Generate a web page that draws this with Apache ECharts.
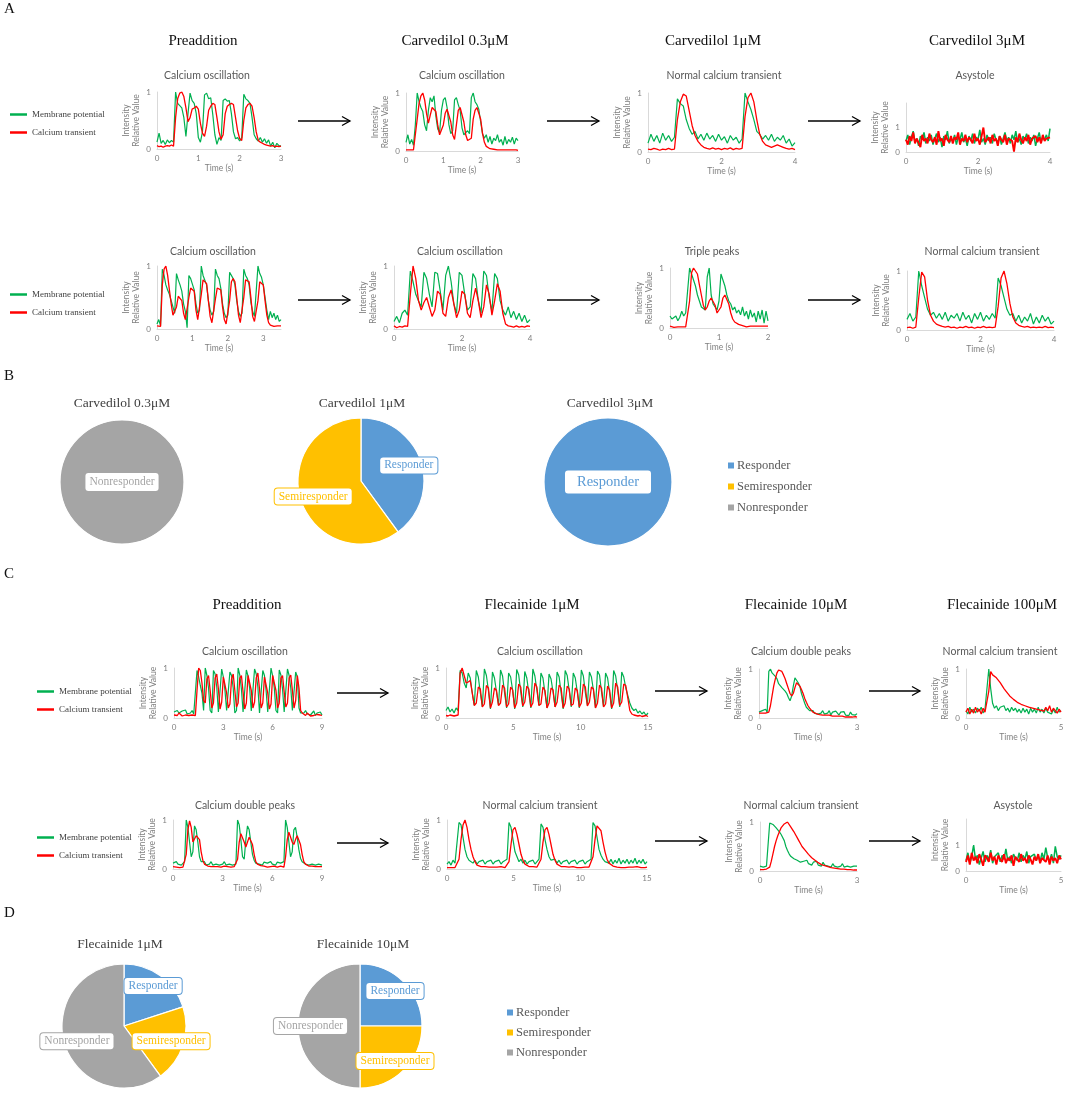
<!DOCTYPE html>
<html>
<head>
<meta charset="utf-8">
<script src="https://cdn.jsdelivr.net/npm/echarts@6/dist/echarts.min.js"></script>
<style>
  html, body { margin: 0; padding: 0; background: #fff; }
  #fig { width: 1065px; height: 1094px; }
</style>
</head>
<body>
<div id="fig"></div>
<script>
// ---- traces: membrane potential (mp) and calcium transient (ct) ----
// panel A, top row
var mpA1 = [0.12,0.28,0.10,0.15,0.08,0.16,0.11,0.15,0.12,1.00,0.80,0.76,0.72,0.55,0.22,0.62,0.98,0.85,0.80,0.62,0.20,0.12,0.30,0.95,0.98,0.88,0.90,0.60,0.25,0.08,0.20,0.15,0.85,0.88,0.84,0.85,0.62,0.30,0.18,0.20,0.14,0.20,0.96,0.88,0.85,0.80,0.55,0.25,0.18,0.14,0.20,0.12,0.18,0.10,0.16,0.05,0.12,0.02,0.10,0.06,0.05];
var ctA1 = [0.06,0.04,0.05,0.03,0.05,0.06,0.05,0.07,0.05,0.55,0.88,0.98,1.00,0.92,0.72,0.48,0.55,0.70,0.72,0.75,0.70,0.45,0.28,0.22,0.40,0.68,0.75,0.80,0.78,0.55,0.30,0.17,0.25,0.62,0.75,0.78,0.80,0.78,0.55,0.32,0.18,0.15,0.50,0.72,0.78,0.80,0.75,0.55,0.30,0.15,0.12,0.10,0.08,0.07,0.06,0.05,0.06,0.04,0.05,0.04,0.05];
var mpA2 = [0.15,0.28,0.12,0.20,0.10,0.45,1.00,0.85,0.75,0.68,0.45,0.35,0.70,0.92,0.85,0.95,0.60,0.38,0.32,0.70,0.88,0.92,0.75,0.45,0.30,0.35,0.88,0.92,0.80,0.70,0.40,0.28,0.30,0.35,0.30,0.92,1.00,0.85,0.80,0.72,0.50,0.30,0.22,0.28,0.15,0.25,0.12,0.22,0.18,0.28,0.15,0.20,0.10,0.25,0.12,0.20,0.15,0.24,0.12,0.22,0.18];
var ctA2 = [0.02,0.03,0.02,0.04,0.02,0.05,0.55,0.82,0.95,1.00,0.88,0.65,0.48,0.62,0.75,0.72,0.68,0.45,0.28,0.25,0.45,0.65,0.72,0.70,0.50,0.28,0.20,0.45,0.70,0.75,0.72,0.50,0.28,0.18,0.15,0.22,0.55,0.70,0.75,0.72,0.55,0.30,0.15,0.08,0.05,0.04,0.05,0.03,0.04,0.02,0.03,0.02,0.03,0.02,0.01,0.02,0.01,0.02,0.01,0.02,0.01];
var mpA3 = [0.15,0.30,0.18,0.28,0.15,0.32,0.20,0.28,0.18,0.25,0.90,0.82,0.78,0.55,0.40,0.30,0.35,0.22,0.30,0.20,0.32,0.22,0.28,0.18,0.30,0.20,0.26,0.15,0.28,0.20,0.25,0.15,0.22,1.00,0.85,0.72,0.55,0.35,0.30,0.22,0.28,0.20,0.30,0.18,0.25,0.20,0.28,0.15,0.22,0.10,0.16];
var ctA3 = [0.05,0.04,0.06,0.05,0.03,0.05,0.04,0.06,0.04,0.05,0.55,0.85,0.98,0.95,0.70,0.45,0.28,0.18,0.12,0.08,0.06,0.05,0.07,0.05,0.06,0.04,0.06,0.05,0.07,0.04,0.06,0.05,0.06,0.60,0.92,1.00,0.85,0.55,0.30,0.18,0.12,0.10,0.08,0.10,0.12,0.10,0.08,0.06,0.05,0.06,0.04];
var mpA4 = [0.45,0.70,0.30,0.60,0.85,0.40,0.55,0.25,0.65,0.50,0.80,0.35,0.60,0.45,0.70,0.30,0.55,0.75,0.40,0.60,0.20,0.65,0.50,0.85,0.35,0.55,0.45,0.70,0.30,0.60,0.50,0.80,0.40,0.55,0.25,0.65,0.45,0.75,0.35,0.60,0.50,0.90,0.40,0.55,0.30,0.70,0.45,0.60,0.35,0.75,0.50,0.40,0.65,0.30,0.55,0.80,0.45,0.60,0.35,0.70,0.50,0.85,0.40,0.55,0.30,0.65,0.50,0.75,0.35,0.60,0.45,0.70,0.25,0.55,0.80,0.40,0.60,0.50,0.70,0.45,0.95];
var ctA4 = [0.50,0.30,0.65,0.45,0.80,0.35,0.55,0.60,0.20,0.70,0.45,0.55,0.35,0.75,0.50,0.40,0.60,0.30,0.85,0.45,0.55,0.25,0.70,0.50,0.40,0.65,0.35,0.60,0.50,0.80,0.30,0.55,0.45,0.70,0.40,0.60,0.50,0.35,0.75,0.45,0.55,0.30,0.65,1.00,0.40,0.50,0.60,0.35,0.70,0.45,0.55,0.25,0.65,0.50,0.40,0.70,0.30,0.55,0.60,0.45,0.02,0.60,0.40,0.75,0.50,0.35,0.60,0.45,0.70,0.30,0.55,0.50,0.65,0.40,0.60,0.35,0.70,0.45,0.55,0.50,0.60];
// panel A, bottom row
var mpA5 = [0.08,0.15,0.05,0.95,0.85,0.70,0.62,0.55,0.45,0.35,0.25,0.88,0.78,0.70,0.60,0.40,0.28,0.02,0.85,0.80,0.78,0.62,0.40,0.25,0.30,1.00,0.85,0.82,0.70,0.45,0.30,0.22,0.28,0.95,0.85,0.80,0.65,0.40,0.25,0.18,0.22,0.90,0.88,0.80,0.70,0.45,0.28,0.20,0.25,0.95,0.85,0.80,0.70,0.42,0.28,0.20,0.22,1.00,0.88,0.82,0.70,0.50,0.30,0.15,0.28,0.18,0.25,0.15,0.22,0.12,0.15];
var ctA5 = [0.05,0.02,0.04,0.70,0.95,1.00,0.85,0.62,0.40,0.22,0.20,0.35,0.52,0.55,0.45,0.25,0.15,0.18,0.50,0.65,0.68,0.60,0.30,0.15,0.12,0.55,0.78,0.80,0.72,0.45,0.20,0.10,0.08,0.48,0.65,0.68,0.62,0.35,0.15,0.08,0.06,0.45,0.75,0.80,0.75,0.50,0.22,0.10,0.08,0.50,0.78,0.80,0.75,0.50,0.20,0.12,0.10,0.45,0.75,0.78,0.70,0.45,0.22,0.10,0.06,0.05,0.04,0.06,0.05,0.06,0.05];
var mpA6 = [0.12,0.20,0.10,0.25,0.30,0.22,0.92,0.75,0.55,0.45,0.35,0.90,0.80,0.55,0.35,0.90,0.88,0.60,0.30,0.85,1.00,0.75,0.40,0.25,0.90,0.85,0.55,0.30,0.35,0.88,0.80,0.45,0.25,0.92,0.85,0.50,0.28,0.88,0.80,0.45,0.30,0.22,0.35,0.18,0.28,0.15,0.25,0.12,0.22,0.10,0.15];
var ctA6 = [0.05,0.02,0.04,0.03,0.05,0.04,0.55,1.00,0.80,0.45,0.30,0.42,0.50,0.35,0.20,0.30,0.60,0.55,0.25,0.20,0.50,0.62,0.40,0.18,0.30,0.60,0.55,0.25,0.18,0.45,0.65,0.45,0.18,0.35,0.70,0.55,0.22,0.45,0.72,0.60,0.25,0.08,0.05,0.04,0.03,0.05,0.03,0.04,0.03,0.05,0.04];
var mpA7 = [0.20,0.15,0.12,0.20,0.12,0.18,0.28,0.20,0.25,0.22,1.00,0.90,0.80,0.70,0.55,0.45,0.35,0.32,0.30,0.85,1.00,0.55,0.40,0.35,0.30,0.45,0.90,0.88,0.70,0.55,0.45,0.40,0.30,0.35,0.25,0.30,0.22,0.35,0.20,0.28,0.15,0.30,0.18,0.25,0.10,0.28,0.15,0.30,0.08,0.28,0.12];
var ctA7 = [0.03,0.02,0.01,0.03,0.02,0.03,0.02,0.03,0.02,0.03,0.45,0.92,1.00,0.98,0.90,0.72,0.55,0.38,0.30,0.35,0.45,0.50,0.48,0.38,0.25,0.22,0.35,0.50,0.55,0.52,0.40,0.25,0.15,0.10,0.08,0.06,0.05,0.04,0.03,0.02,0.04,0.03,0.02,0.03,0.04,0.03,0.02,0.03,0.04,0.03,0.03];
var mpA8 = [0.18,0.28,0.15,0.22,1.00,0.75,0.55,0.35,0.25,0.30,0.20,0.28,0.18,0.30,0.15,0.25,0.20,0.28,0.15,0.30,0.18,0.25,0.12,0.28,0.18,0.30,0.15,0.25,0.18,0.28,0.20,0.88,0.75,0.55,0.35,0.25,0.28,0.15,0.25,0.12,0.22,0.15,0.28,0.10,0.22,0.12,0.25,0.15,0.22,0.10,0.15];
var ctA8 = [0.04,0.05,0.03,0.05,0.55,0.98,0.90,0.50,0.25,0.15,0.10,0.08,0.06,0.05,0.06,0.04,0.05,0.03,0.05,0.04,0.06,0.04,0.05,0.03,0.05,0.04,0.06,0.04,0.05,0.04,0.05,0.40,0.88,1.00,0.78,0.45,0.22,0.12,0.08,0.06,0.05,0.06,0.04,0.05,0.04,0.05,0.04,0.06,0.04,0.05,0.04];
// panel C, top row
var mpC1 = [0.12,0.08,0.15,0.10,0.06,0.14,0.10,0.16,0.08,0.12,0.10,0.15,0.08,0.12,
  0.95,0.82,0.65,0.50,0.15, 1.00,0.85,0.60,0.15,0.10, 0.95,0.88,0.62,0.12,0.08, 0.98,0.82,0.55,0.15,0.12,
  0.92,0.85,0.60,0.10,0.15, 1.00,0.86,0.58,0.12,0.08, 0.96,0.84,0.60,0.14,0.10, 0.98,0.88,0.62,0.10,0.12,
  0.95,0.85,0.55,0.12,0.08, 1.00,0.84,0.60,0.15,0.10, 0.96,0.86,0.58,0.12,0.12, 0.98,0.85,0.60,0.15,0.12,
  0.92,0.82,0.20,0.10,0.12, 0.10,0.15,0.08,0.12,0.06,0.10,0.14,0.05,0.10,0.08,0.12,0.06];
var ctC1 = [0.06,0.08,0.05,0.10,0.07,0.04,0.08,0.06,0.09,0.05,0.07,0.06,0.08,0.05,
  0.55,1.00,0.95,0.70,0.35, 0.30,0.78,0.85,0.55,0.20, 0.30,0.80,0.88,0.58,0.18, 0.32,0.82,0.85,0.50,0.20,
  0.28,0.78,0.88,0.55,0.22, 0.30,0.80,0.85,0.52,0.18, 0.30,0.85,0.88,0.55,0.20, 0.32,0.80,0.90,0.58,0.20,
  0.30,0.82,0.86,0.50,0.18, 0.28,0.85,0.88,0.55,0.20, 0.30,0.80,0.85,0.52,0.22, 0.30,0.80,0.86,0.55,0.20,
  0.35,0.85,0.60,0.15,0.10, 0.08,0.05,0.10,0.06,0.04,0.08,0.05,0.03,0.07,0.04,0.06,0.05];
var mpC2 = [0.15,0.22,0.12,0.18,0.10,0.20,0.15,
  0.95,0.90,0.70,0.60, 0.90,0.80,0.50,0.25, 0.95,0.82,0.50,0.22, 0.98,0.85,0.55,0.18, 0.92,0.80,0.52,0.25,
  0.96,0.84,0.50,0.20, 0.90,0.82,0.55,0.18, 0.97,0.86,0.52,0.22, 0.93,0.80,0.50,0.20, 0.98,0.84,0.55,0.25,
  0.90,0.80,0.50,0.20, 0.88,0.78,0.52,0.22, 0.92,0.82,0.50,0.18, 0.95,0.85,0.55,0.22, 0.90,0.80,0.52,0.20,
  0.96,0.84,0.50,0.25, 0.92,0.82,0.55,0.20, 0.94,0.86,0.52,0.22, 0.90,0.80,0.50,0.18, 0.95,0.84,0.55,0.22,
  0.92,0.82,0.60,0.45, 0.30,0.20,0.15,0.18,0.10,0.14,0.08,0.12,0.05,0.10];
var ctC2 = [0.05,0.04,0.06,0.05,0.04,0.05,0.06,
  0.90,1.00,0.85,0.70, 0.72,0.75,0.50,0.25, 0.30,0.62,0.58,0.22, 0.28,0.65,0.60,0.20, 0.32,0.60,0.55,0.25,
  0.30,0.66,0.60,0.22, 0.28,0.62,0.56,0.20, 0.30,0.68,0.62,0.24, 0.32,0.64,0.58,0.22, 0.30,0.70,0.62,0.25,
  0.28,0.62,0.55,0.20, 0.30,0.60,0.56,0.22, 0.32,0.66,0.60,0.20, 0.30,0.64,0.58,0.25, 0.28,0.60,0.55,0.22,
  0.30,0.68,0.62,0.24, 0.32,0.62,0.58,0.20, 0.30,0.66,0.60,0.22, 0.28,0.64,0.56,0.20, 0.30,0.70,0.62,0.25,
  0.32,0.68,0.65,0.40, 0.15,0.08,0.06,0.05,0.04,0.05,0.03,0.04,0.05,0.03];
var mpC3 = [0.12,0.10,0.15,0.12,0.18,0.12,0.95,1.00,0.92,0.95,0.85,0.80,0.70,0.72,0.62,0.65,0.55,0.50,0.42,0.35,0.45,0.65,0.82,0.78,0.72,0.65,0.50,0.40,0.30,0.22,0.18,0.15,0.12,0.15,0.10,0.14,0.08,0.12,0.10,0.15,0.08,0.12,0.10,0.15,0.06,0.12,0.08,0.14,0.10,0.06,0.12,0.08,0.13,0.06,0.10,0.05,0.12,0.07,0.10,0.06,0.09];
var ctC3 = [0.10,0.12,0.10,0.08,0.10,0.08,0.12,0.25,0.45,0.65,0.80,0.92,0.98,1.00,0.95,0.88,0.80,0.70,0.60,0.50,0.45,0.50,0.62,0.72,0.70,0.65,0.58,0.50,0.40,0.32,0.25,0.20,0.16,0.12,0.10,0.09,0.08,0.07,0.08,0.06,0.07,0.06,0.05,0.06,0.05,0.04,0.05,0.04,0.03,0.04,0.03,0.04,0.03,0.02,0.03,0.02,0.03,0.02,0.02,0.03,0.02];
var mpC4 = [0.15,0.08,0.22,0.12,0.18,0.10,0.20,0.14,0.22,0.10,0.18,0.15,1.00,0.60,0.30,0.20,0.25,0.15,0.22,0.18,0.25,0.15,0.20,0.12,0.22,0.15,0.20,0.12,0.18,0.10,0.20,0.12,0.18,0.08,0.20,0.12,0.18,0.10,0.22,0.12,0.18,0.10,0.20,0.12,0.15,0.08,0.18,0.10,0.22,0.12,0.15];
var ctC4 = [0.12,0.20,0.08,0.18,0.10,0.22,0.12,0.18,0.08,0.20,0.12,0.15,0.55,0.95,0.88,0.92,0.82,0.80,0.72,0.68,0.60,0.55,0.52,0.45,0.42,0.38,0.35,0.32,0.30,0.28,0.32,0.25,0.28,0.22,0.25,0.20,0.24,0.18,0.22,0.16,0.20,0.14,0.22,0.15,0.25,0.12,0.20,0.15,0.10,0.18,0.12];
// panel C, bottom row
var mpC5 = [0.12,0.08,0.15,0.10,0.14,0.08,0.12,0.15,
  1.00,0.85,0.55,0.25,0.35,0.88,0.80,0.55,0.25,0.15,0.12,
  0.15,0.08,0.12,0.10,0.15,0.08,0.12,0.10,0.14,0.08,0.12,0.10,0.15,0.08,0.12,0.10,0.14,0.08,0.12,0.10,
  1.00,0.90,0.60,0.25,0.20,0.60,0.88,0.80,0.55,0.30,0.18,0.12,
  0.15,0.10,0.12,0.08,0.14,0.10,0.12,0.08,0.15,0.10,0.12,0.08,0.14,0.10,0.12,0.08,0.15,
  1.00,0.85,0.55,0.25,0.35,0.80,0.85,0.65,0.40,0.22,0.15,0.12,
  0.10,0.14,0.08,0.12,0.10,0.14,0.08,0.12,0.10,0.13,0.08];
var ctC5 = [0.05,0.06,0.04,0.05,0.03,0.06,0.04,0.05,
  0.30,0.80,0.98,0.85,0.55,0.52,0.68,0.72,0.60,0.35,0.18,
  0.10,0.08,0.06,0.08,0.05,0.06,0.05,0.07,0.05,0.06,0.04,0.05,0.06,0.04,0.05,0.06,0.04,0.05,0.05,0.06,
  0.20,0.55,0.72,0.75,0.55,0.45,0.55,0.65,0.62,0.50,0.30,0.15,
  0.10,0.08,0.07,0.05,0.06,0.05,0.04,0.06,0.05,0.04,0.06,0.05,0.04,0.05,0.06,0.05,0.04,
  0.25,0.60,0.75,0.78,0.55,0.50,0.60,0.68,0.65,0.50,0.30,0.15,
  0.10,0.08,0.06,0.05,0.06,0.04,0.05,0.03,0.05,0.04,0.05];
var mpC6 = [0.10,0.15,0.08,0.18,0.12,0.15,
  0.95,0.90,0.65,0.40,0.25,0.18,0.15,0.12,0.18,
  0.10,0.15,0.12,0.18,0.10,0.15,0.12,0.18,0.10,0.15,0.12,0.18,0.10,0.15,0.12,0.20,
  0.95,0.85,0.60,0.35,0.25,0.15,0.20,0.12,0.18,0.10,0.15,0.12,0.18,0.10,0.15,0.20,
  0.92,0.85,0.60,0.40,0.25,0.18,0.15,0.20,0.12,0.18,0.10,0.15,0.12,0.18,0.10,0.15,0.12,0.18,0.10,0.15,0.12,0.18,0.10,0.15,0.12,0.20,
  0.95,0.88,0.65,0.40,0.28,0.20,0.15,0.18,0.12,0.20,0.10,0.18,0.12,0.22,0.10,0.18,0.12,0.20,0.10,0.18,0.12,0.22,0.10,0.18,0.12,0.20,0.10,0.15];
var ctC6 = [0.03,0.04,0.03,0.04,0.03,0.05,
  0.20,0.60,0.90,1.00,0.85,0.60,0.40,0.25,0.15,
  0.08,0.06,0.05,0.04,0.05,0.03,0.04,0.03,0.04,0.03,0.04,0.03,0.05,0.04,0.03,0.05,
  0.15,0.50,0.80,0.85,0.70,0.50,0.30,0.18,0.10,0.06,0.05,0.04,0.05,0.03,0.04,0.03,
  0.20,0.55,0.80,0.85,0.70,0.50,0.30,0.18,0.10,0.06,0.05,0.04,0.05,0.03,0.04,0.03,0.05,0.04,0.03,0.04,0.03,0.05,0.04,0.03,0.04,0.05,
  0.25,0.60,0.88,0.92,0.78,0.55,0.35,0.20,0.12,0.08,0.06,0.05,0.04,0.05,0.03,0.04,0.03,0.05,0.04,0.03,0.04,0.03,0.05,0.04,0.03,0.04,0.03,0.04];
var mpC7 = [0.10,0.12,0.08,0.12,0.10,0.14,0.98,1.00,0.95,0.96,0.88,0.85,0.80,0.75,0.72,0.62,0.50,0.42,0.35,0.30,0.32,0.25,0.28,0.22,0.25,0.18,0.22,0.20,0.16,0.22,0.15,0.18,0.12,0.18,0.14,0.20,0.12,0.16,0.10,0.18,0.12,0.16,0.10,0.14,0.08,0.15,0.10,0.14,0.08,0.12,0.10,0.15,0.08,0.12,0.10,0.14,0.08,0.12,0.10,0.13,0.10];
var ctC7 = [0.03,0.04,0.03,0.05,0.04,0.03,0.08,0.20,0.35,0.50,0.62,0.72,0.80,0.88,0.92,0.96,0.99,1.00,0.96,0.90,0.85,0.80,0.74,0.68,0.62,0.56,0.50,0.46,0.42,0.38,0.34,0.30,0.27,0.24,0.22,0.19,0.17,0.15,0.13,0.12,0.11,0.10,0.09,0.08,0.07,0.07,0.06,0.06,0.05,0.05,0.04,0.04,0.04,0.03,0.03,0.03,0.03,0.02,0.02,0.03,0.02];
var mpC8 = [0.40,0.70,0.30,0.55,1.00,0.45,0.60,0.25,0.50,0.75,0.35,0.60,0.45,0.80,0.30,0.55,0.50,0.70,0.35,0.60,0.45,0.85,0.40,0.55,0.30,0.65,0.50,0.40,0.70,0.35,0.60,0.45,0.75,0.30,0.55,0.50,0.65,0.40,0.60,0.35,0.70,0.45,0.90,0.50,0.40,0.65,0.30,0.95,0.55,0.45,0.60];
var ctC8 = [0.35,0.60,0.25,0.70,0.40,0.55,0.30,0.65,0.45,0.20,0.60,0.50,0.35,0.70,0.40,0.55,0.25,0.60,0.45,0.35,0.65,0.30,0.50,0.40,0.60,0.20,0.55,0.45,0.35,0.65,0.40,0.50,0.30,0.60,0.45,0.25,0.55,0.40,0.65,0.30,0.50,0.45,0.35,0.60,0.25,0.55,0.40,0.50,0.30,0.60,0.45];

// per-plot text and axis values, plot order: A top, A bottom, C top, C bottom
var plotTitles = ['Calcium oscillation','Calcium oscillation','Normal calcium transient','Asystole',
  'Calcium oscillation','Calcium oscillation','Triple peaks','Normal calcium transient',
  'Calcium oscillation','Calcium oscillation','Calcium double peaks','Normal calcium transient',
  'Calcium double peaks','Normal calcium transient','Normal calcium transient','Asystole'];
var timeSpans = [3, 3, 4, 4, 3.5, 4, 2, 4, 9, 15, 3, 5, 9, 15, 3, 5];
var timeTicks = [1, 1, 2, 2, 1, 2, 1, 2, 3, 5, 3, 5, 3, 5, 3, 5];
var yTops = [1, 1, 1, 2, 1, 1, 1, 1, 1, 1, 1, 1, 1, 1, 1, 2];
var membrane = [mpA1, mpA2, mpA3, mpA4, mpA5, mpA6, mpA7, mpA8, mpC1, mpC2, mpC3, mpC4, mpC5, mpC6, mpC7, mpC8];
var calcium = [ctA1, ctA2, ctA3, ctA4, ctA5, ctA6, ctA7, ctA8, ctC1, ctC2, ctC3, ctC4, ctC5, ctC6, ctC7, ctC8];

var colTitlesA = ['Preaddition', 'Carvedilol 0.3μM', 'Carvedilol 1μM', 'Carvedilol 3μM'];
var colTitlesC = ['Preaddition', 'Flecainide 1μM', 'Flecainide 10μM', 'Flecainide 100μM'];

// responder counts per pie: [Responder, Semiresponder, Nonresponder]
var pieNames = ['Responder', 'Semiresponder', 'Nonresponder'];
var carv03 = [0, 0, 1];
var carv1 = [2, 3, 0];
var carv3 = [1, 0, 0];
var flec1 = [1, 1, 3];
var flec10 = [1, 1, 2];
var pieTitles = ['Carvedilol 0.3μM', 'Carvedilol 1μM', 'Carvedilol 3μM', 'Flecainide 1μM', 'Flecainide 10μM'];
var pieCounts = [carv03, carv1, carv3, flec1, flec10];

// ---- layout (pixels) ----
var GREEN = '#00B050', RED = '#FF0000';
var pieColors = ['#5B9BD5', '#FFC000', '#A5A5A5'];
var SERIF = '"Liberation Serif", "Times New Roman", serif';
var SANS = 'Lato, "Open Sans", sans-serif';
var boxes = [
  [157, 92, 124, 57], [406, 93, 112, 58], [648, 93, 147, 59], [906, 103, 144, 49],
  [157, 266, 124, 63], [394, 266, 136, 63], [670, 268, 98, 60], [907, 271, 147, 59],
  [174, 668, 148, 50], [446, 668, 202, 50], [759, 669, 98, 49], [966, 669, 95, 49],
  [173, 820, 149, 49], [447, 820, 200, 49], [760, 822, 97, 49], [966, 819, 95, 52]
];
var subPos = [[207, 76], [462, 76], [724, 76], [975, 76], [213, 252], [460, 252], [712, 252], [982, 252],
  [245, 652], [540, 652], [801, 652], [1000, 652], [245, 806], [540, 806], [801, 806], [1013, 806]];
var colPosA = [[203, 41], [455, 41], [713, 41], [977, 41]];
var colPosC = [[247, 605], [532, 605], [796, 605], [1002, 605]];
var arrows = [[298, 350, 121], [547, 599, 121], [808, 860, 121], [298, 350, 300], [547, 599, 300], [808, 860, 300],
  [337, 388, 693], [655, 707, 691], [869, 920, 691], [337, 388, 843], [655, 707, 841], [869, 920, 841]];
var piePos = [[122, 482, 62], [361, 481, 63], [608, 482, 64], [124, 1026, 62], [360, 1026, 62]];
var pieTitlePos = [[122, 403], [362, 403], [610, 403], [120, 944], [363, 944]];
var letters = [['A', 4, 9], ['B', 4, 376], ['C', 4, 574], ['D', 4, 913]];

var grids = [], xAxes = [], yAxes = [], series = [], graphics = [];
var axisGrey = '#7f7f7f';

function trace(name, vals, span, k, color, width) {
    return {
        type: 'line', name: name, xAxisIndex: k, yAxisIndex: k,
        showSymbol: false, silent: true, animation: false,
        lineStyle: { color: color, width: width }, itemStyle: { color: color },
        data: vals.map(function (v, i) { return [i * span / (vals.length - 1), v]; })
    };
}

for (var k = 0; k < 16; k++) {
    var b = boxes[k];
    grids.push({ left: b[0], top: b[1], width: b[2], height: b[3], outerBoundsMode: 'none' });
    var xLab = { fontSize: 8, color: axisGrey, margin: 5, fontFamily: SANS };
    if (timeSpans[k] % timeTicks[k] !== 0) xLab.showMaxLabel = false;
    xAxes.push({
        type: 'value', gridIndex: k, min: 0, max: timeSpans[k], interval: timeTicks[k],
        name: 'Time (s)', nameLocation: 'middle', nameGap: 15,
        nameTextStyle: { fontSize: 8.5, color: axisGrey, fontFamily: SANS },
        axisLine: { lineStyle: { color: '#d9d9d9' } }, axisTick: { show: false },
        splitLine: { show: false }, axisLabel: xLab
    });
    var yLab = { fontSize: 8, color: axisGrey, margin: 6, fontFamily: SANS };
    if (yTops[k] !== 1) yLab.showMaxLabel = false;
    yAxes.push({
        type: 'value', gridIndex: k, min: 0, max: yTops[k], interval: 1,
        name: 'Intensity\nRelative Value', nameLocation: 'middle', nameRotate: 90, nameGap: 16,
        nameTextStyle: { fontSize: 8.5, color: axisGrey, fontFamily: SANS, lineHeight: 10 },
        axisLine: { show: true, lineStyle: { color: '#d9d9d9' } }, axisTick: { show: false },
        splitLine: { show: false }, axisLabel: yLab
    });
    var asys = yTops[k] === 2;
    series.push(trace('Membrane potential', membrane[k], timeSpans[k], k, GREEN, asys ? 1.5 : 1.2));
    series.push(trace('Calcium transient', calcium[k], timeSpans[k], k, RED, asys ? 1.9 : 1.3));
    graphics.push({
        type: 'text', x: subPos[k][0], y: subPos[k][1],
        style: { text: plotTitles[k], fill: '#595959', fontSize: 10.5, fontFamily: SANS, align: 'center', verticalAlign: 'middle' }
    });
}

// column headings
colTitlesA.forEach(function (t, i) {
    graphics.push({ type: 'text', x: colPosA[i][0], y: colPosA[i][1],
        style: { text: t, fill: '#111', fontSize: 15, fontFamily: SERIF, align: 'center', verticalAlign: 'middle' } });
});
colTitlesC.forEach(function (t, i) {
    graphics.push({ type: 'text', x: colPosC[i][0], y: colPosC[i][1],
        style: { text: t, fill: '#111', fontSize: 15, fontFamily: SERIF, align: 'center', verticalAlign: 'middle' } });
});
letters.forEach(function (l) {
    graphics.push({ type: 'text', x: l[1], y: l[2],
        style: { text: l[0], fill: '#111', fontSize: 15, fontFamily: SERIF, align: 'left', verticalAlign: 'middle' } });
});
arrows.forEach(function (a) {
    graphics.push({ type: 'line', shape: { x1: a[0], y1: a[2], x2: a[1], y2: a[2] }, style: { stroke: '#000', lineWidth: 1.3 } });
    graphics.push({ type: 'polyline', shape: { points: [[a[1] - 8, a[2] - 4.5], [a[1], a[2]], [a[1] - 8, a[2] + 4.5]] },
        style: { stroke: '#000', lineWidth: 1.3, fill: null } });
});

// pies
function boxLabel(color, size, pad) {
    return {
        show: true, color: color, fontFamily: SERIF, fontSize: size,
        backgroundColor: '#fff', borderColor: color, borderWidth: 1, borderRadius: 3, padding: pad
    };
}
pieCounts.forEach(function (counts, p) {
    var items = [], overlay = [];
    counts.forEach(function (v, i) {
        if (v > 0) {
            items.push({ name: pieNames[i], value: v, itemStyle: { color: pieColors[i] } });
            overlay.push({ name: pieNames[i], value: v, itemStyle: { color: 'rgba(0,0,0,0)' },
                label: boxLabel(pieColors[i], 11.5, [2, 4]) });
        }
    });
    var pos = piePos[p];
    var full = items.length === 1;
    var main = {
        type: 'pie', center: [pos[0], pos[1]], radius: pos[2], startAngle: 90, clockwise: true,
        silent: true, animation: false, emphasis: { disabled: true },
        itemStyle: { borderColor: '#fff', borderWidth: 1.2 }, labelLine: { show: false },
        label: { show: false }, data: items
    };
    if (full) {
        var c = pieColors[pieNames.indexOf(items[0].name)];
        main.label = boxLabel(c, p === 2 ? 14.5 : 11.5, p === 2 ? [4, 12] : [3, 4]);
        main.label.position = 'center';
    }
    series.push(main);
    if (!full) {
        series.push({
            type: 'pie', center: [pos[0], pos[1]], radius: [pos[2] * 0.5, pos[2]], startAngle: 90, clockwise: true,
            silent: true, animation: false, emphasis: { disabled: true },
            itemStyle: { borderWidth: 0 }, labelLine: { show: false },
            label: { position: 'inside' }, data: overlay
        });
    }
    graphics.push({ type: 'text', x: pieTitlePos[p][0], y: pieTitlePos[p][1],
        style: { text: pieTitles[p], fill: '#404040', fontSize: 13.5, fontFamily: SERIF, align: 'center', verticalAlign: 'middle' } });
});

function lineLegend(left, top) {
    return {
        data: ['Membrane potential', 'Calcium transient'], orient: 'vertical', left: left, top: top,
        icon: 'rect', itemWidth: 17, itemHeight: 2.5, itemGap: 7, selectedMode: false,
        textStyle: { fontFamily: SERIF, fontSize: 9, color: '#404040', lineHeight: 11 }
    };
}
function pieLegend(left, top, gap) {
    return {
        data: pieNames, orient: 'vertical', left: left, top: top,
        icon: 'rect', itemWidth: 8, itemHeight: 8, itemGap: gap, selectedMode: false,
        textStyle: { fontFamily: SERIF, fontSize: 12.5, color: '#595959', lineHeight: 12, padding: [0, 0, 0, -3] }
    };
}

var chart = echarts.init(document.getElementById('fig'), null, { renderer: 'canvas' });
chart.setOption({
    backgroundColor: '#fff',
    animation: false,
    grid: grids,
    xAxis: xAxes,
    yAxis: yAxes,
    legend: [
        lineLegend(5, 104), lineLegend(5, 284), lineLegend(32, 681), lineLegend(32, 827),
        pieLegend(721, 454, 8), pieLegend(500, 1001, 7)
    ],
    series: series,
    graphic: graphics
});
</script>
</body>
</html>
